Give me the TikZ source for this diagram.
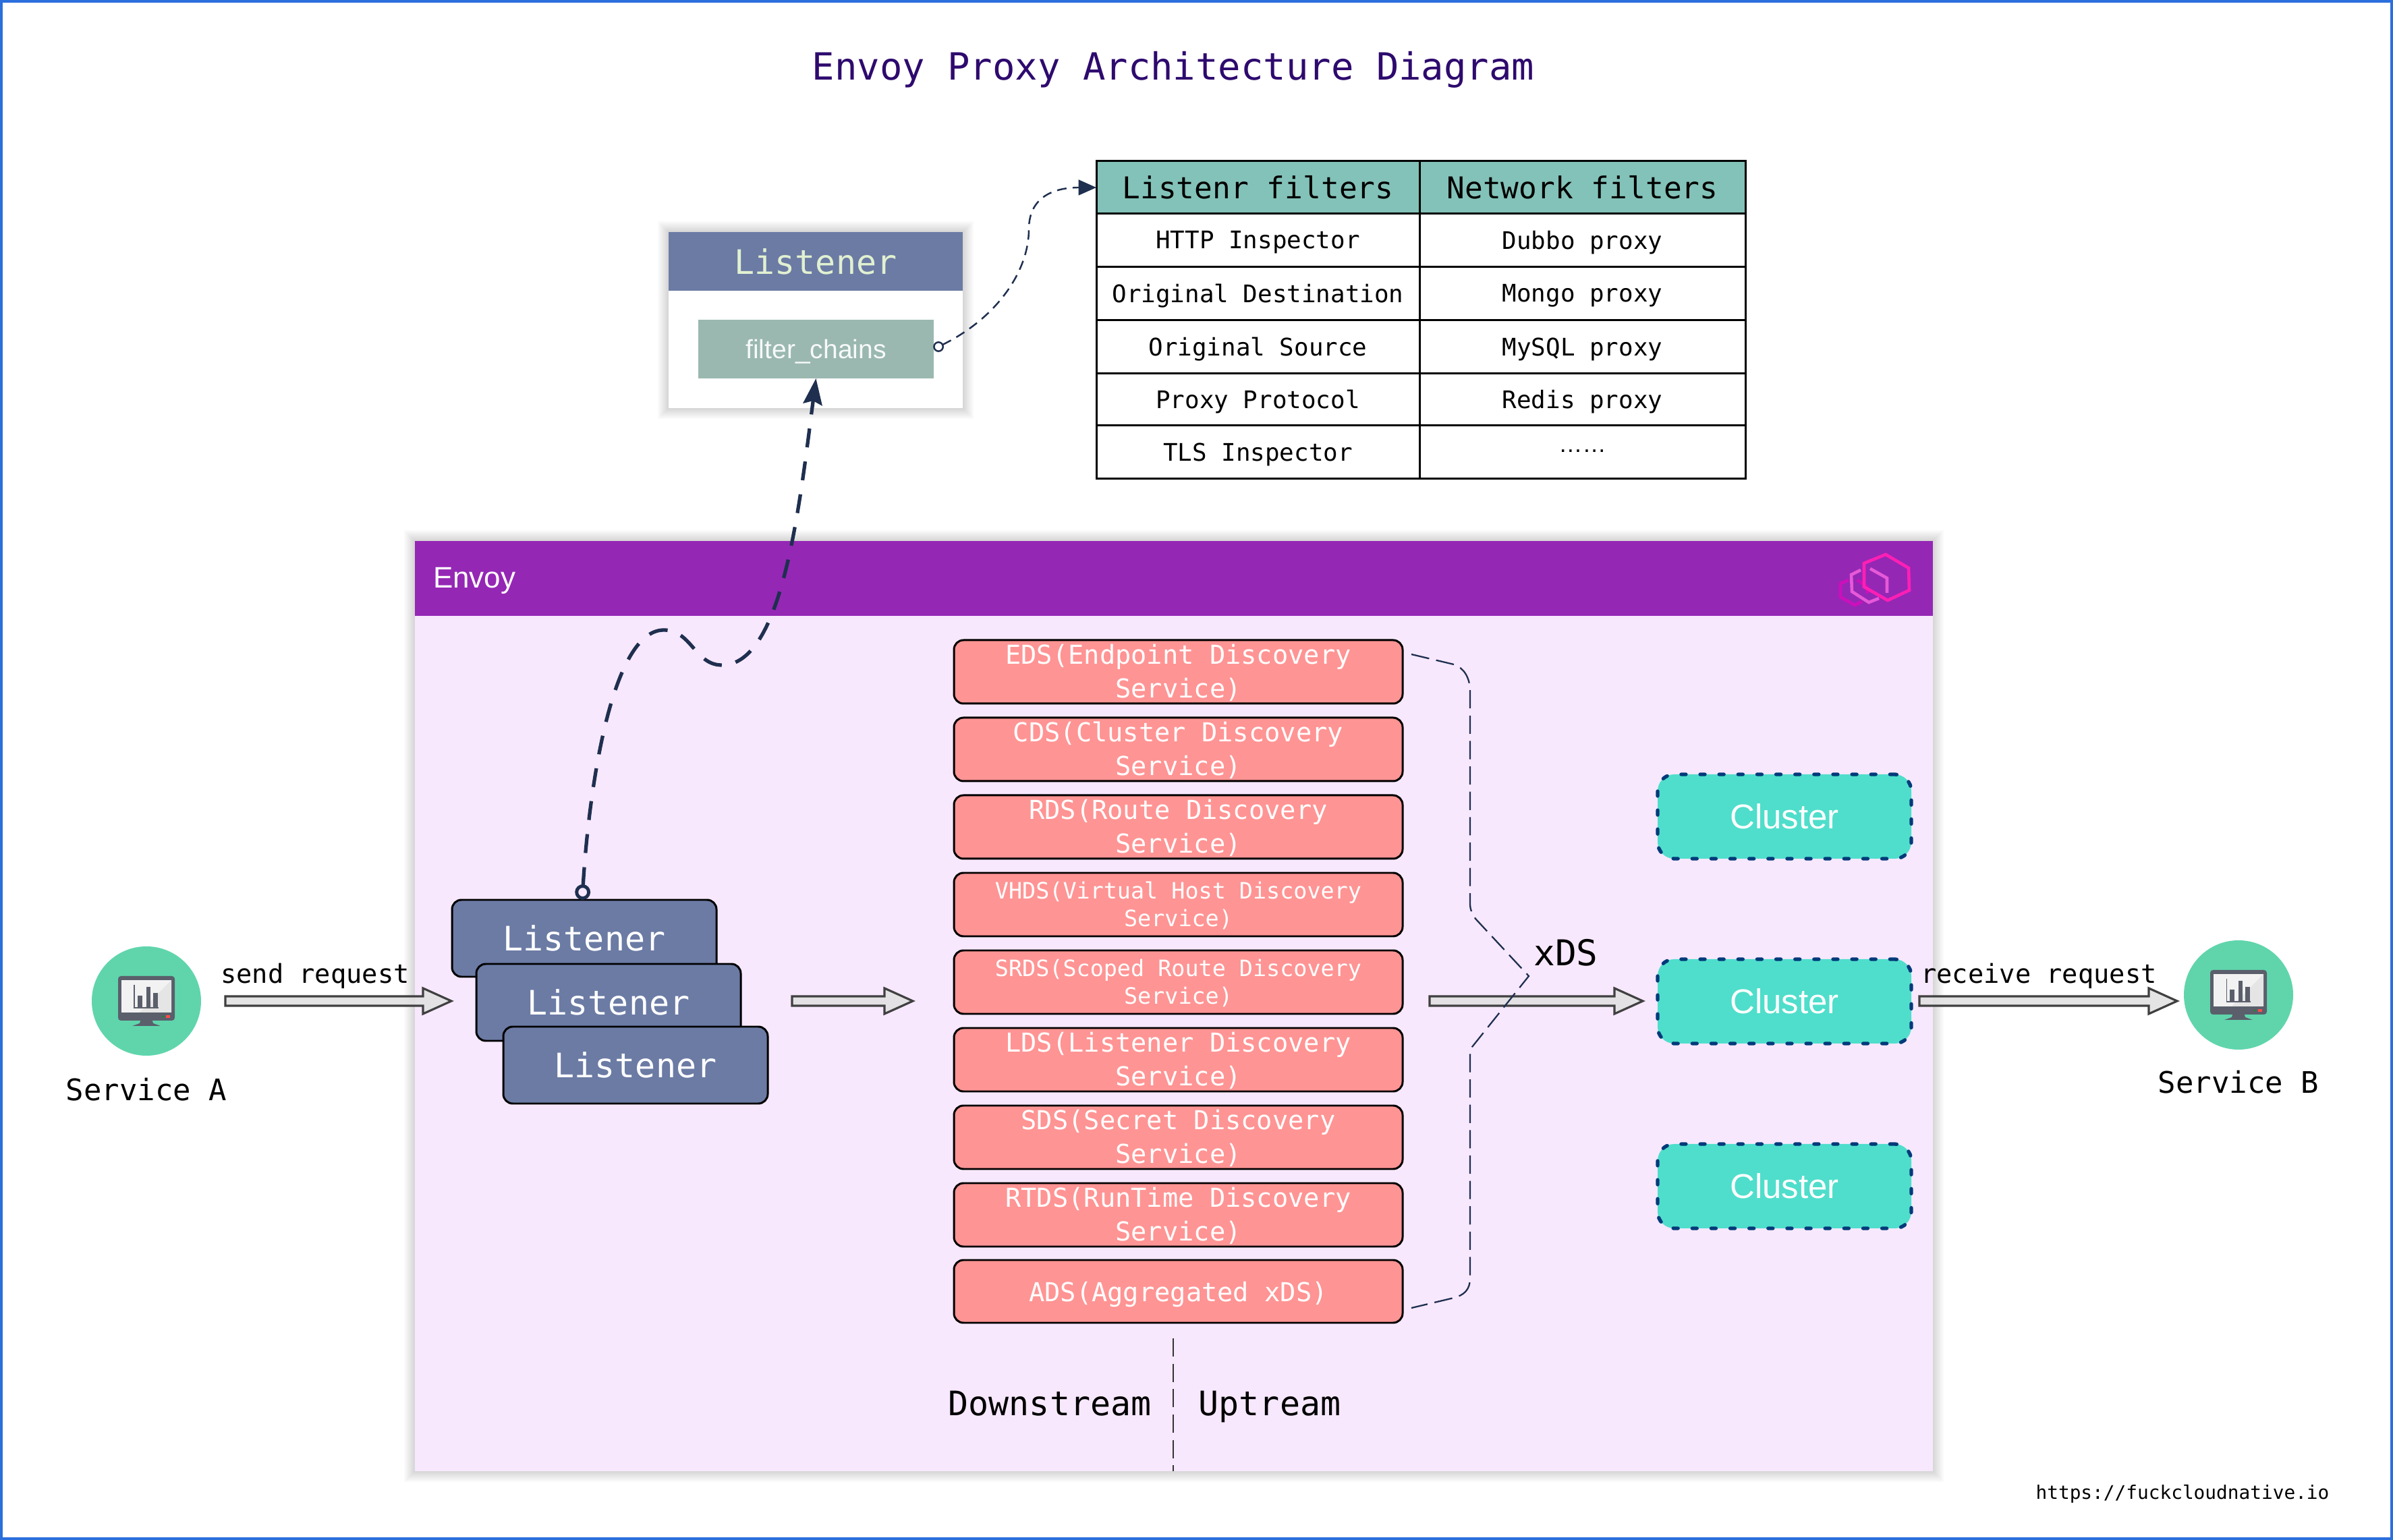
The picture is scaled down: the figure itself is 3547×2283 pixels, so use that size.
\documentclass[tikz,border=0pt]{standalone}
\usepackage{fontspec}
\setmainfont{Liberation Sans}
\setmonofont{DejaVu Sans Mono}
\usetikzlibrary{arrows.meta,calc}
\definecolor{framec}{HTML}{2B6FDC}
\definecolor{titlec}{HTML}{2E0A6E}
\definecolor{envoyc}{HTML}{9527B5}
\definecolor{bodyc}{HTML}{F7E8FD}
\definecolor{pinkc}{HTML}{FF9494}
\definecolor{listc}{HTML}{6B7BA4}
\definecolor{tblc}{HTML}{83C2B8}
\definecolor{chainc}{HTML}{9AB8B0}
\definecolor{clusterc}{HTML}{4FDECB}
\definecolor{dotc}{HTML}{003A7A}
\definecolor{svcc}{HTML}{60D5AC}
\definecolor{navyc}{HTML}{1F2F4F}
\definecolor{monc}{HTML}{5A5F6B}
\newcommand{\mono}[2]{\ttfamily\fontsize{#1}{#2}\selectfont}
\newcommand{\sans}[1]{\rmfamily\fontsize{#1}{#1}\selectfont}
\newcommand{\softshadow}[2]{%
  \foreach \s in {2,4,6,8,10,12,14,16}{
    \fill[black,opacity=.018] ($(#1)+(-\s,-\s)$) rectangle ($(#2)+(\s,\s)$);
  }}
\newcommand{\blockarrow}[2]{%
  \draw[blockar] ($(#1)+(0,-7)$) -- ($(#2)+(-42,-7)$) -- ($(#2)+(-42,-19)$) -- (#2)
    -- ($(#2)+(-42,19)$) -- ($(#2)+(-42,7)$) -- ($(#1)+(0,7)$) -- cycle;}
\tikzset{
  x=0.01cm,y=-0.01cm,
  sz/.style 2 args={minimum width=#1*0.01cm,minimum height=#2*0.01cm,inner sep=0pt,outer sep=0pt},
  plain/.style={inner sep=0pt,outer sep=0pt},
  lbl/.style={plain,font=\mono{11}{14},text=black},
  svclbl/.style={plain,font=\mono{12.5}{15},text=black},
  bigmono/.style={plain,font=\mono{14.2}{17},text=black},
  xdsbox/.style={draw=black,line width=.85pt,fill=pinkc,rounded corners=4pt,text=white,align=center,
     font=\mono{11}{14.2},anchor=north west,text depth=0.6pt},
  xdssmall/.style={xdsbox,font=\mono{9.5}{11.6}},
  listbox/.style={draw=black,line width=.85pt,fill=listc,rounded corners=4pt,text=white,
     font=\mono{14.2}{17},anchor=north west,sz={392}{114}},
  clusterbox/.style={draw=dotc,line width=1.5pt,dash pattern=on 2pt off 6pt,line cap=round,fill=clusterc,
     rounded corners=7pt,text=white,font=\sans{14.5},anchor=north west,sz={376}{125}},
  thead/.style={draw=black,line width=.85pt,fill=tblc,text=black,font=\mono{12.65}{15},anchor=north west},
  tcell/.style={draw=black,line width=.85pt,fill=white,text=black,font=\mono{10.2}{12},anchor=north west,text depth=0.4pt},
  svcnode/.style={circle,fill=svcc,sz={162}{162}},
  blockar/.style={draw=black!75,line width=.9pt,fill=black!12,fill opacity=.85,line join=miter},
  bigdash/.style={draw=navyc,line width=1.5pt,dash pattern=on 8pt off 6pt,
     {Circle[open,length=6.5pt,width=6.5pt,line width=1.4pt,fill=none]}-{Stealth[length=11pt,width=8pt,inset=1.5pt]}},
  smalldash/.style={draw=navyc,line width=.7pt,dash pattern=on 4pt off 2.6pt,
     {Circle[open,length=4.5pt,width=4.5pt,line width=.7pt,fill=none,sep=0pt]}-{Triangle[length=7.5pt,width=6.5pt]}},
  xdsdash/.style={draw=navyc,line width=.65pt,dash pattern=on 7.7pt off 3pt},
  sepdash/.style={draw=black!80,line width=.6pt,dash pattern=on 7.7pt off 3pt},
  hex/.style={line width=1.3pt,line join=miter},
  monitor/.pic={
    \fill[monc] (-8,26) -- (8,26) -- (10,33) -- (21,37) -- (-21,37) -- (-10,33) -- cycle;
    \fill[monc,rounded corners=1.2pt] (-42,-37) rectangle (42,29);
    \fill[white!95!black] (-37,-31) rectangle (37,17);
    \fill[white!90!black] (37,-31) -- (37,17) -- (-10,17) -- cycle;
    \draw[monc,line width=.3pt] (-18,-24) -- (-18,10) -- (18,10);
    \fill[monc] (-13,-8) rectangle (-6,10);
    \fill[monc] (0,-21) rectangle (6,10);
    \fill[monc] (10,-12) rectangle (17,10);
    \fill[red!70!white] (29,21) rectangle (35,25);
    \fill[green!60!black] (24,22) rectangle (26,24);
  },
}
\begin{document}
\begin{tikzpicture}
\useasboundingbox (0,0) rectangle (3547,2283);
\fill[white] (0,0) rectangle (3547,2283);
\draw[framec,line width=1.3pt] (2,2) rectangle (3545,2281);
\node[plain,font=\mono{15.8}{18},text=titlec] (title) at (1739,103) {Envoy Proxy Architecture Diagram};

% Listener card
\coordinate (cardTL) at (991,344);
\coordinate (cardBR) at (1427,605);
\softshadow{cardTL}{cardBR}
\node[fill=white,sz={436}{261},anchor=north west] (card) at (cardTL) {};
\node[fill=listc,sz={436}{87},anchor=north west,text={rgb,255:red,225;green,240;blue,208},font=\mono{14.2}{17}] (cardhead) at (cardTL) {Listener};
\node[fill=chainc,sz={349}{87},anchor=north west,text=white!92!chainc,font=\sans{11.1},text depth=0pt] (filter) at (1035,474) {filter\_chains};

% Table
\node[thead,sz={479}{78}] (h1) at (1625,239) {Listenr filters};
\node[thead,sz={483}{78}] (h2) at (2104,239) {Network filters};
\node[tcell,sz={479}{79}] (a1) at (1625,317) {HTTP Inspector};
\node[tcell,sz={483}{79}] (b1) at (2104,317) {Dubbo proxy};
\node[tcell,sz={479}{79}] (a2) at (1625,396) {Original Destination};
\node[tcell,sz={483}{79}] (b2) at (2104,396) {Mongo proxy};
\node[tcell,sz={479}{79}] (a3) at (1625,475) {Original Source};
\node[tcell,sz={483}{79}] (b3) at (2104,475) {MySQL proxy};
\node[tcell,sz={479}{77}] (a4) at (1625,554) {Proxy Protocol};
\node[tcell,sz={483}{77}] (b4) at (2104,554) {Redis proxy};
\node[tcell,sz={479}{79}] (a5) at (1625,631) {TLS Inspector};
\node[tcell,sz={483}{79}] (b5) at (2104,631) {\raisebox{0.6pt}{\rmfamily\fontsize{10}{10}\selectfont ……}};

% Envoy panel
\coordinate (envTL) at (615,802);
\coordinate (envBR) at (2865,2181);
\softshadow{envTL}{envBR}
\node[fill=bodyc,sz={2250}{1379},anchor=north west] (envoybody) at (envTL) {};
\node[fill=envoyc,sz={2250}{111},anchor=north west] (envoyhead) at (envTL) {};
\node[plain,anchor=west,text=white,font=\sans{12.5}] (envoylabel) at (642,861) {Envoy};

% logo
\draw[hex,draw={rgb,255:red,204;green,16;blue,187}] (2740,860) -- (2728,865) -- (2728,885) -- (2749,897) -- (2760,892);
\draw[hex,draw={rgb,255:red,204;green,16;blue,187}] (2753,860) -- (2768,870) -- (2768,880);
\draw[hex,draw={rgb,255:red,230;green,89;blue,216}] (2758,845) -- (2744,852) -- (2745,877) -- (2770,893) -- (2785,887);
\draw[hex,draw={rgb,255:red,230;green,89;blue,216}] (2772,843) -- (2797,857) -- (2797,879);
\draw[hex,draw={rgb,255:red,255;green,31;blue,180}] (2795,822) -- (2829,842) -- (2830,875) -- (2798,890) -- (2763,870) -- (2763,835) -- cycle;

% Services
\node[svcnode] (serviceA) at (217,1484) {};
\pic at (serviceA) {monitor};
\node[svclbl] (serviceAlabel) at (217,1615) {Service A};
\node[svcnode] (serviceB) at (3318,1475) {};
\pic at (serviceB) {monitor};
\node[svclbl] (serviceBlabel) at (3318,1604) {Service B};

% Listener stack
\node[listbox] (listenerA) at (670,1334) {Listener};
\node[listbox] (listenerB) at (706,1429) {Listener};
\node[listbox] (listenerC) at (746,1522) {Listener};

% xDS stack
\node[xdsbox,sz={665}{94}] (eds) at (1414,949) {EDS(Endpoint Discovery\\Service)};
\node[xdsbox,sz={665}{94}] (cds) at (1414,1064) {CDS(Cluster Discovery\\Service)};
\node[xdsbox,sz={665}{94}] (rds) at (1414,1179) {RDS(Route Discovery\\Service)};
\node[xdssmall,sz={665}{94}] (vhds) at (1414,1294) {VHDS(Virtual Host Discovery\\Service)};
\node[xdssmall,sz={665}{94}] (srds) at (1414,1409) {SRDS(Scoped Route Discovery\\Service)};
\node[xdsbox,sz={665}{94}] (lds) at (1414,1524) {LDS(Listener Discovery\\Service)};
\node[xdsbox,sz={665}{94}] (sds) at (1414,1639) {SDS(Secret Discovery\\Service)};
\node[xdsbox,sz={665}{94}] (rtds) at (1414,1754) {RTDS(RunTime Discovery\\Service)};
\node[xdsbox,sz={665}{93},text depth=0pt] (ads) at (1414,1868) {ADS(Aggregated xDS)};

% Clusters
\node[clusterbox] (clusterA) at (2457,1148) {Cluster};
\node[clusterbox] (clusterB) at (2457,1422) {Cluster};
\node[clusterbox] (clusterC) at (2457,1696) {Cluster};

% Labels
\node[lbl] (sendlabel) at (467,1447) {send request};
\node[lbl] (recvlabel) at (3022,1447) {receive request};
\node[plain,font=\mono{15}{18},text=black] (xdslabel) at (2321,1412) {xDS};
\node[bigmono] (downlabel) at (1556,2081) {Downstream};
\node[bigmono] (uplabel) at (1882,2085) {Uptream};
\node[plain,font=\mono{7.9}{10},text=black] (urllabel) at (3235,2215) {https://fuckcloudnative.io};

% Block arrows
\coordinate (sA) at (334,1484);
\coordinate (eA) at (669,1484);
\coordinate (sB) at (1174,1484);
\coordinate (eB) at (1353,1484);
\coordinate (sC) at (2119,1484);
\coordinate (eC) at (2435,1484);
\coordinate (sD) at (2845,1484);
\coordinate (eD) at (3227,1484);
\blockarrow{sA}{eA}
\blockarrow{sB}{eB}
\blockarrow{sC}{eC}
\blockarrow{sD}{eD}

% Dashed connectors
\draw[bigdash] ($(listenerA.north)+(-3,0)$) .. controls (872,1180) and (905,934) .. (984,934)
   .. controls (1025,934) and (1030,986) .. (1070,986)
   .. controls (1160,986) and (1185,750) .. (filter.south);
\draw[smalldash] (filter.east) .. controls (1480,470) and (1525,400) .. (1525,340)
   .. controls (1525,290) and (1565,278) .. (h1.west);

\coordinate (xdsTop) at (2092,970);
\coordinate (xdsTip) at (2266,1447);
\coordinate (xdsBot) at (2092,1939);
\draw[xdsdash] (xdsTop) -- (2155,985) .. controls (2170,990) and (2179,1005) .. (2179,1025)
  -- (2179,1340) .. controls (2179,1350) and (2183,1355) .. (2187,1362)
  -- (xdsTip) -- (2182,1552) .. controls (2180,1556) and (2179,1560) .. (2179,1565)
  -- (2179,1895) .. controls (2179,1912) and (2170,1920) .. (2155,1924) -- (xdsBot);

\coordinate (sepTop) at (1739,1984);
\coordinate (sepBot) at (1739,2181);
\draw[sepdash] (sepTop) -- (sepBot);
\end{tikzpicture}
\end{document}
